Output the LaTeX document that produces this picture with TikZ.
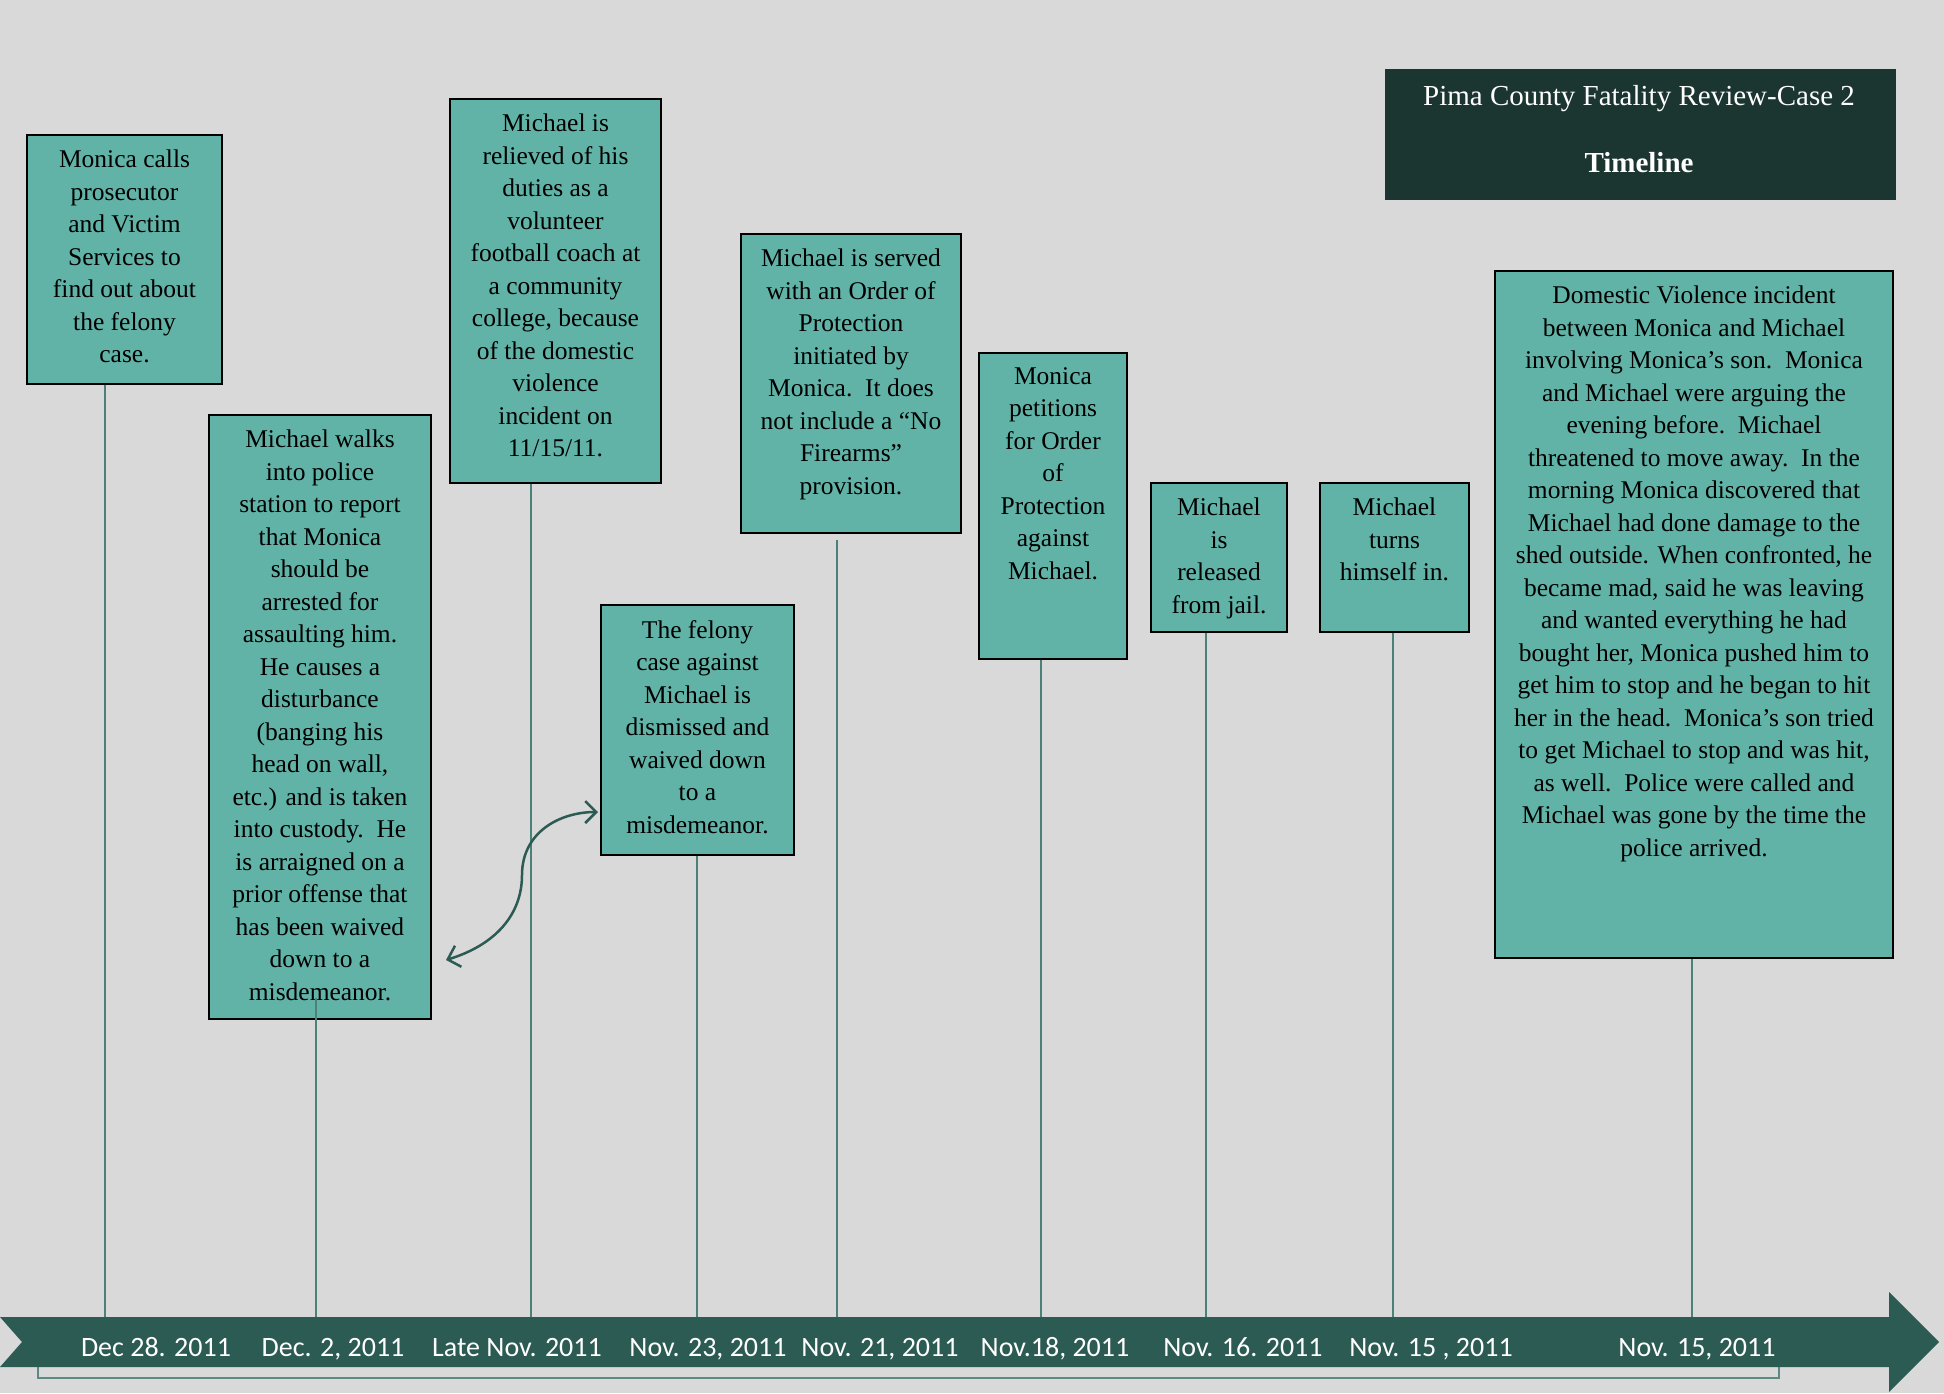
\documentclass[tikz,border=0pt]{standalone}
\usepackage{fontspec}
\setmainfont{Liberation Serif}
\newfontfamily\datefamily{Carlito}
\usepackage{tikz}
\usetikzlibrary{arrows, arrows.meta, positioning, calc}
\definecolor{pagegray}{HTML}{D9D9D9}
\definecolor{boxteal}{HTML}{62B3A7}
\definecolor{bandgreen}{HTML}{2B5B53}
\definecolor{titlegreen}{HTML}{1B3531}
\definecolor{stemteal}{HTML}{4C8179}
\definecolor{bracketteal}{HTML}{5A8A83}
\newcommand{\evfont}{\fontsize{25.5}{32.5}\selectfont}
\tikzstyle{eventbox} = [rectangle, draw=black, line width=2pt, fill=boxteal, anchor=north west, inner sep=0pt]
\tikzstyle{eventtext} = [align=center, inner sep=0pt, text=black, font=\evfont]
\tikzstyle{stem} = [draw=stemteal, line width=1.8pt]
\tikzstyle{datelabel} = [anchor=base, inner sep=0pt, text=white, font=\datefamily\fontsize{28}{32}\selectfont]
\tikzstyle{titletext} = [inner sep=0pt, text=white, font=\fontsize{29}{34}\selectfont]
\tikzstyle{linkarrow} = [draw=bandgreen, line width=2.5pt, {Straight Barb[length=11pt,width=22pt]}-{Straight Barb[length=11pt,width=22pt]}]

\begin{document}
\begin{tikzpicture}[x=1pt, y=-1pt]
        \useasboundingbox (0,0) rectangle (1944,1393);
        \fill[pagegray] (0,0) rectangle (1944,1393);

        % title
        \node[eventbox, draw=none, fill=titlegreen, minimum width=511pt, minimum height=131pt] (TitleBox) at (1384,68) {};
        \node[titletext] (TitleLine) at (1639,99) {Pima County Fatality Review-Case 2};
        \node[titletext, font=\fontsize{29}{34}\selectfont\bfseries] (TitleSub) at (1639,163) {Timeline};

        % events
        \node[eventbox, minimum width=195pt, minimum height=249pt] (CallsProsecutor) at (26,134) {};
        \node[eventtext, below=16pt of CallsProsecutor.north] (CallsProsecutorText) {Monica calls\\prosecutor\\and Victim\\Services to\\find out about\\the felony\\case.};

        \node[eventbox, minimum width=222pt, minimum height=604pt] (WalksIntoPolice) at (208,414) {};
        \node[eventtext, below=16pt of WalksIntoPolice.north] (WalksIntoPoliceText) {Michael walks\\into police\\station to report\\that Monica\\should be\\arrested for\\assaulting him.\\He causes a\\disturbance\\(banging his\\head on wall,\\etc.) and is taken\\into custody.~~He\\is arraigned on a\\prior offense that\\has been waived\\down to a\\misdemeanor.};

        \node[eventbox, minimum width=211pt, minimum height=384pt] (RelievedOfDuties) at (449,98) {};
        \node[eventtext, below=16pt of RelievedOfDuties.north] (RelievedOfDutiesText) {Michael is\\relieved of his\\duties as a\\volunteer\\football coach at\\a community\\college, because\\of the domestic\\violence\\incident on\\11/15/11.};

        \node[eventbox, minimum width=193pt, minimum height=250pt] (FelonyDismissed) at (600,604) {};
        \node[eventtext, below=16pt of FelonyDismissed.north] (FelonyDismissedText) {The felony\\case against\\Michael is\\dismissed and\\waived down\\to a\\misdemeanor.};

        \node[eventbox, minimum width=220pt, minimum height=299pt] (ServedWithOrder) at (740,233) {};
        \node[eventtext, below=16pt of ServedWithOrder.north] (ServedWithOrderText) {Michael is served\\with an Order of\\Protection\\initiated by\\Monica.~~It does\\not include a “No\\Firearms”\\provision.};

        \node[eventbox, minimum width=148pt, minimum height=306pt] (PetitionsForOrder) at (978,352) {};
        \node[eventtext, below=15pt of PetitionsForOrder.north] (PetitionsForOrderText) {Monica\\petitions\\for Order\\of\\Protection\\against\\Michael.};

        \node[eventbox, minimum width=136pt, minimum height=149pt] (ReleasedFromJail) at (1150,482) {};
        \node[eventtext, below=16pt of ReleasedFromJail.north] (ReleasedFromJailText) {Michael\\is\\released\\from jail.};

        \node[eventbox, minimum width=149pt, minimum height=149pt] (TurnsHimselfIn) at (1319,482) {};
        \node[eventtext, below=16pt of TurnsHimselfIn.north] (TurnsHimselfInText) {Michael\\turns\\himself in.};

        \node[eventbox, minimum width=398pt, minimum height=687pt] (DomesticIncident) at (1494,270) {};
        \node[eventtext, below=16pt of DomesticIncident.north] (DomesticIncidentText) {Domestic Violence incident\\between Monica and Michael\\involving Monica’s son.~~Monica\\and Michael were arguing the\\evening before.~~Michael\\threatened to move away.~~In the\\morning Monica discovered that\\Michael had done damage to the\\shed outside. When confronted, he\\became mad, said he was leaving\\and wanted everything he had\\bought her, Monica pushed him to\\get him to stop and he began to hit\\her in the head.~~Monica’s son tried\\to get Michael to stop and was hit,\\as well.~~Police were called and\\Michael was gone by the time the\\police arrived.};

        % timeline band
        \draw[bracketteal, line width=2pt] (38,1330) |- (1779,1378) -- (1779,1330);
        \fill[bandgreen] (0,1317) -- (1889,1317) -- (1889,1292) -- (1939,1342) -- (1889,1392) -- (1889,1367) -- (0,1367) -- (22,1342) -- cycle;

        % stems
        \coordinate (D1) at (105,1317);
        \coordinate (D2) at (316,1317);
        \coordinate (D3) at (531,1317);
        \coordinate (D4) at (697,1317);
        \coordinate (D5) at (837,1317);
        \coordinate (D6) at (1041,1317);
        \coordinate (D7) at (1206,1317);
        \coordinate (D8) at (1393,1317);
        \coordinate (D9) at (1692,1317);
        \draw[stem] (D1) -- (D1 |- CallsProsecutor.south);
        \draw[stem] (D2) -- ([yshift=22pt]D2 |- WalksIntoPolice.south);
        \draw[stem] (D3) -- (D3 |- RelievedOfDuties.south);
        \draw[stem] (D4) -- (D4 |- FelonyDismissed.south);
        \draw[stem] (D5) -- ([yshift=-6pt]D5 |- ServedWithOrder.south);
        \draw[stem] (D6) -- (D6 |- PetitionsForOrder.south);
        \draw[stem] (D7) -- (D7 |- ReleasedFromJail.south);
        \draw[stem] (D8) -- (D8 |- TurnsHimselfIn.south);
        \draw[stem] (D9) -- (D9 |- DomesticIncident.south);

        % dates
        \node[datelabel] (DateA) at (156,1356) {Dec 28. 2011};
        \node[datelabel] (DateB) at (333,1356) {Dec. 2, 2011};
        \node[datelabel] (DateC) at (517,1356) {Late Nov. 2011};
        \node[datelabel] (DateD) at (708,1356) {Nov. 23, 2011};
        \node[datelabel] (DateE) at (880,1356) {Nov. 21, 2011};
        \node[datelabel] (DateF) at (1055,1356) {Nov.18, 2011};
        \node[datelabel] (DateG) at (1243,1356) {Nov. 16. 2011};
        \node[datelabel] (DateH) at (1431,1356) {Nov. 15 , 2011};
        \node[datelabel] (DateI) at (1697,1356) {Nov. 15, 2011};

        % link between the two misdemeanor events
        \coordinate (ArrowStart) at ($(WalksIntoPolice.east)+(14,243)$);
        \coordinate (ArrowEnd) at ($(FelonyDismissed.west)+(-2,82)$);
        \draw[linkarrow] (ArrowStart) .. controls (495,945) and (522,915) .. (522,875) .. controls (522,832) and (560,812) .. (ArrowEnd);
\end{tikzpicture}
\end{document}
